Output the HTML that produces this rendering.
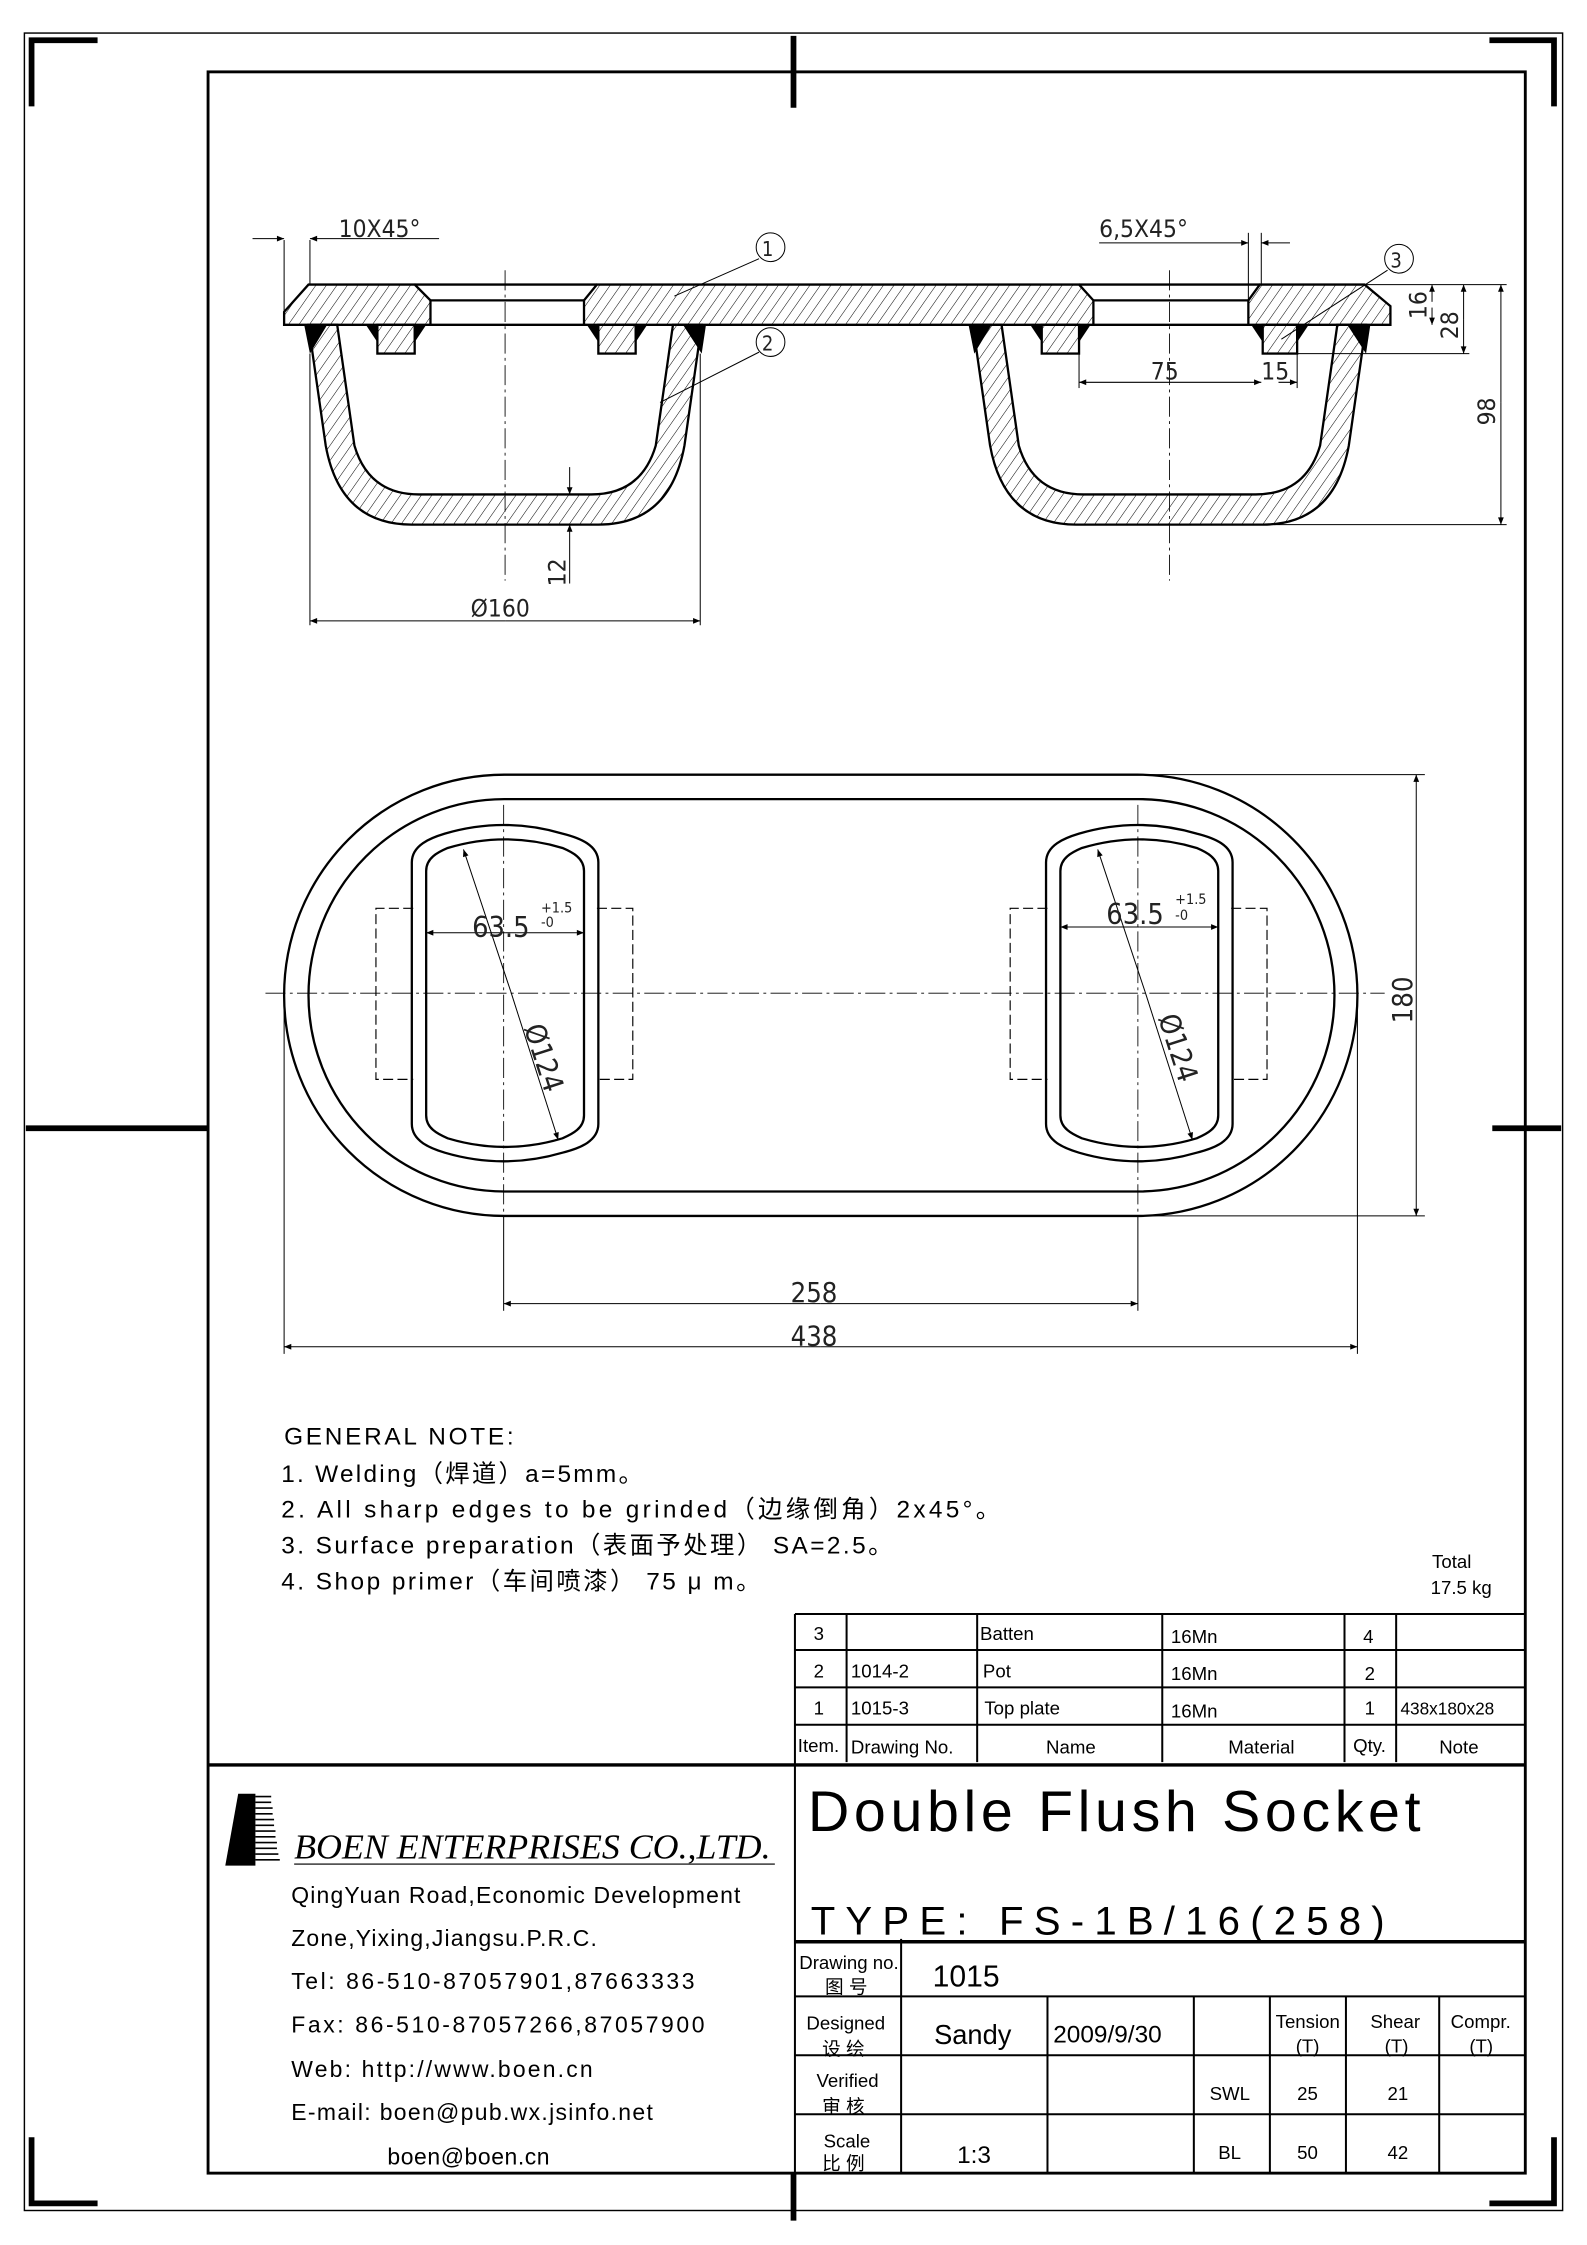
<!DOCTYPE html>
<html><head><meta charset="utf-8"><style>
html,body{margin:0;padding:0;background:#fff;}
svg{display:block;}
text{font-family:"Liberation Sans","Noto Sans CJK SC",sans-serif;fill:#000;}
.d{font-size:17px;font-family:"DejaVu Sans Condensed","Liberation Sans",sans-serif;fill:#222;font-weight:200;}
</style></head><body>
<svg width="1587" height="2245" viewBox="0 0 1106 1562" preserveAspectRatio="none" xmlns="http://www.w3.org/2000/svg">
<defs>
<pattern id="h" width="6" height="6" patternUnits="userSpaceOnUse" patternTransform="rotate(35)">
<line x1="0" y1="0" x2="0" y2="6" stroke="#000" stroke-width="0.7"/></pattern>
<marker id="a" viewBox="0 0 10 10" refX="10" refY="5" markerWidth="9" markerHeight="5" orient="auto-start-reverse" markerUnits="userSpaceOnUse"><path d="M0,1 L10,5 L0,9z" fill="#000"/></marker>
</defs>
<rect width="1106" height="1562" fill="#fff"/>
<rect x="17" y="23" width="1072" height="1515" fill="none" stroke="#000" stroke-width="1"/>
<rect x="145" y="50" width="918" height="1462" fill="none" stroke="#000" stroke-width="2"/>
<g stroke="#000" stroke-width="4" fill="none">
<path d="M68,28 H22 V74"/><path d="M1038,28 H1083 V74"/>
<path d="M22,1487 V1533 H68"/><path d="M1038,1533 H1083 V1487"/>
<path d="M553,25 V75"/><path d="M553,1512 V1545"/>
<path d="M18,785 H145"/><path d="M1040,785 H1088"/>
</g>
<g stroke="#000" stroke-width="0.6" stroke-dasharray="14,3,2,3">
<line x1="352" y1="188" x2="352" y2="404"/><line x1="815" y1="188" x2="815" y2="404"/>
</g>
<g stroke="#000" stroke-width="1.6" fill="url(#h)">
<path d="M215,226 L227,310 Q237,365 287,365 L417,365 Q467,365 477,310 L489,226 L469,226 L457,310 Q447,344 412,344 L292,344 Q257,344 247,310 L235,226 Z"/>
<path d="M678,226 L690,310 Q700,365 750,365 L880,365 Q930,365 940,310 L952,226 L932,226 L920,310 Q910,344 875,344 L755,344 Q720,344 710,310 L698,226 Z"/>
<path d="M215,198 L289,198 L300,209 L300,226 L198,226 L198,217 Z"/>
<path d="M416,198 L752,198 L762,209 L762,226 L407,226 L407,209 Z"/>
<path d="M878,198 L951,198 L969,213 L969,226 L870,226 L870,209 Z"/>
<rect x="263" y="226" width="26" height="20"/><rect x="417" y="226" width="26" height="20"/>
<rect x="726" y="226" width="26" height="20"/><rect x="880" y="226" width="24" height="20"/>
</g>
<g stroke="#000" stroke-width="1.6"><line x1="289" y1="198" x2="416" y2="198"/><line x1="752" y1="198" x2="878" y2="198"/>
<line x1="300" y1="209" x2="407" y2="209"/><line x1="762" y1="209" x2="870" y2="209"/>
<line x1="300" y1="226" x2="407" y2="226"/><line x1="762" y1="226" x2="870" y2="226"/></g>
<g fill="#000">
<path d="M255,226 L263,226 L263,238Z"/><path d="M289,226 L297,226 L289,238Z"/>
<path d="M409,226 L417,226 L417,238Z"/><path d="M443,226 L451,226 L443,238Z"/>
<path d="M718,226 L726,226 L726,238Z"/><path d="M752,226 L760,226 L752,238Z"/>
<path d="M872,226 L880,226 L880,238Z"/><path d="M904,226 L912,226 L904,238Z"/>
<path d="M212,226 L228,226 L216,246Z"/><path d="M476,226 L492,226 L489,246Z"/>
<path d="M675,226 L691,226 L679,246Z"/><path d="M939,226 L955,226 L952,246Z"/>
</g>
<g stroke="#000" stroke-width="0.7" fill="none">
<line x1="198" y1="167" x2="198" y2="217"/><line x1="216" y1="167" x2="216" y2="198"/>
<line x1="176" y1="166" x2="198" y2="166" marker-end="url(#a)"/><line x1="306" y1="166" x2="216" y2="166" marker-end="url(#a)"/>
<line x1="870" y1="162" x2="870" y2="209"/><line x1="879" y1="162" x2="879" y2="198"/>
<line x1="766" y1="169" x2="870" y2="169" marker-end="url(#a)"/><line x1="899" y1="169" x2="879" y2="169" marker-end="url(#a)"/>
<circle cx="537" cy="172" r="10"/><line x1="529" y1="180" x2="470" y2="206"/>
<circle cx="537" cy="238" r="10"/><line x1="529" y1="245" x2="460" y2="280"/>
<circle cx="975" cy="180" r="10"/><line x1="967" y1="188" x2="893" y2="236"/>
<line x1="952" y1="198" x2="1050" y2="198"/><line x1="904" y1="246" x2="1024" y2="246"/><line x1="888" y1="365" x2="1050" y2="365"/>
<line x1="998" y1="210" x2="998" y2="198" marker-end="url(#a)"/><line x1="998" y1="214" x2="998" y2="226" marker-end="url(#a)"/>
<line x1="1020" y1="222" x2="1020" y2="198" marker-end="url(#a)"/><line x1="1020" y1="222" x2="1020" y2="246" marker-end="url(#a)"/>
<line x1="1046" y1="280" x2="1046" y2="198" marker-end="url(#a)"/><line x1="1046" y1="280" x2="1046" y2="365" marker-end="url(#a)"/>
<line x1="752" y1="246" x2="752" y2="270"/><line x1="904" y1="246" x2="904" y2="270"/>
<line x1="815" y1="266" x2="752" y2="266" marker-end="url(#a)"/><line x1="815" y1="266" x2="879" y2="266" marker-end="url(#a)"/>
<line x1="891" y1="266" x2="904" y2="266" marker-end="url(#a)"/>
<line x1="397" y1="325" x2="397" y2="344" marker-end="url(#a)"/><line x1="397" y1="406" x2="397" y2="365" marker-end="url(#a)"/>
<line x1="216" y1="246" x2="216" y2="435"/><line x1="488" y1="246" x2="488" y2="435"/>
<line x1="352" y1="432" x2="216" y2="432" marker-end="url(#a)"/><line x1="352" y1="432" x2="488" y2="432" marker-end="url(#a)"/>
</g>
<text class="d" x="236" y="165">10X45°</text>
<text class="d" x="766" y="165">6,5X45°</text>
<text class="d" x="531" y="178" style="font-size:14px">1</text>
<text class="d" x="531" y="244" style="font-size:14px">2</text>
<text class="d" x="969" y="186" style="font-size:14px">3</text>
<text class="d" x="802" y="264">75</text>
<text class="d" x="879" y="264">15</text>
<text class="d" transform="translate(994,222) rotate(-90)">16</text>
<text class="d" transform="translate(1016,236) rotate(-90)">28</text>
<text class="d" transform="translate(1042,296) rotate(-90)">98</text>
<text class="d" transform="translate(394,408) rotate(-90)">12</text>
<text class="d" x="328" y="429">Ø160</text>
<g stroke="#000" stroke-width="1.6" fill="none">
<rect x="198" y="539" width="748" height="307" rx="153.5"/>
<rect x="215" y="556" width="715" height="273" rx="136.5"/>
<path d="M287,600 C287,588 300,583 310,580 Q351,568 392,580 C404,583 417,588 417,600 L417,782 C417,794 404,799 392,802 Q351,814 310,802 C300,799 287,794 287,782 Z"/>
<path d="M297,606 C297,597 305,593 312,590 Q352,578 392,590 C399,593 407,597 407,606 L407,776 C407,785 399,789 392,792 Q352,804 312,792 C305,789 297,785 297,776 Z"/>
<g transform="translate(442,0)">
<path d="M287,600 C287,588 300,583 310,580 Q351,568 392,580 C404,583 417,588 417,600 L417,782 C417,794 404,799 392,802 Q351,814 310,802 C300,799 287,794 287,782 Z"/>
<path d="M297,606 C297,597 305,593 312,590 Q352,578 392,590 C399,593 407,597 407,606 L407,776 C407,785 399,789 392,792 Q352,804 312,792 C305,789 297,785 297,776 Z"/>
</g>
</g>
<g stroke="#000" stroke-width="0.8" fill="none" stroke-dasharray="7,3">
<path d="M288,632 H262 V751 H288"/><path d="M416,632 H441 V751 H416"/>
<path d="M730,632 H704 V751 H730"/><path d="M858,632 H883 V751 H858"/>
</g>
<g stroke="#000" stroke-width="0.6" stroke-dasharray="14,3,2,3">
<line x1="185" y1="691" x2="965" y2="691"/>
<line x1="351" y1="560" x2="351" y2="846"/><line x1="793" y1="560" x2="793" y2="846"/>
</g>
<g stroke="#000" stroke-width="0.7" fill="none">
<line x1="351" y1="846" x2="351" y2="912"/><line x1="793" y1="846" x2="793" y2="912"/>
<line x1="198" y1="700" x2="198" y2="942"/><line x1="946" y1="700" x2="946" y2="942"/>
<line x1="572" y1="907" x2="351" y2="907" marker-end="url(#a)"/><line x1="572" y1="907" x2="793" y2="907" marker-end="url(#a)"/>
<line x1="572" y1="937" x2="198" y2="937" marker-end="url(#a)"/><line x1="572" y1="937" x2="946" y2="937" marker-end="url(#a)"/>
<line x1="800" y1="539" x2="993" y2="539"/><line x1="800" y1="846" x2="993" y2="846"/>
<line x1="987" y1="693" x2="987" y2="539" marker-end="url(#a)"/><line x1="987" y1="693" x2="987" y2="846" marker-end="url(#a)"/>
<line x1="352" y1="649" x2="297" y2="649" marker-end="url(#a)"/><line x1="352" y1="649" x2="407" y2="649" marker-end="url(#a)"/>
<line x1="794" y1="645" x2="739" y2="645" marker-end="url(#a)"/><line x1="794" y1="645" x2="849" y2="645" marker-end="url(#a)"/>
<line x1="356" y1="690" x2="323" y2="591" marker-end="url(#a)"/><line x1="356" y1="690" x2="389" y2="793" marker-end="url(#a)"/>
<line x1="798" y1="690" x2="765" y2="591" marker-end="url(#a)"/><line x1="798" y1="690" x2="831" y2="793" marker-end="url(#a)"/>
</g>
<text class="d" x="329" y="652" style="font-size:20px">63.5</text><text class="d" x="377" y="635" style="font-size:10px">+1.5</text><text class="d" x="377" y="645" style="font-size:10px">-0</text>
<text class="d" x="771" y="643" style="font-size:20px">63.5</text><text class="d" x="819" y="629" style="font-size:10px">+1.5</text><text class="d" x="819" y="640" style="font-size:10px">-0</text>
<text class="d" transform="translate(365,715) rotate(72)" style="font-size:20px">Ø124</text>
<text class="d" transform="translate(807,708) rotate(72)" style="font-size:20px">Ø124</text>
<text class="d" x="551" y="906" style="font-size:19px">258</text>
<text class="d" x="551" y="936" style="font-size:19px">438</text>
<text class="d" transform="translate(984,712) rotate(-90)" style="font-size:19px">180</text>
<g style="font-size:17px">
<text x="198" y="1005" textLength="160" lengthAdjust="spacing">GENERAL NOTE:</text>
<text x="196" y="1031" textLength="252" lengthAdjust="spacing">1. Welding（焊道）a=5mm。</text>
<text x="196" y="1056" textLength="501" lengthAdjust="spacing">2. All sharp edges to be grinded（边缘倒角）2x45°。</text>
<text x="196" y="1081" textLength="426" lengthAdjust="spacing">3. Surface preparation（表面予处理） SA=2.5。</text>
<text x="196" y="1106" textLength="334" lengthAdjust="spacing">4. Shop primer（车间喷漆） 75 μ m。</text>
</g>
<text x="998" y="1091" style="font-size:13px">Total</text>
<text x="997" y="1109" style="font-size:13px">17.5  kg</text>
<g stroke="#000" stroke-width="1.4" fill="none">
<path d="M554,1123 H1063 M554,1148 H1063 M554,1174 H1063 M554,1200 H1063"/>
<path d="M554,1123 V1512 M590,1123 V1226 M681,1123 V1226 M810,1123 V1226 M937,1123 V1226 M973,1123 V1226"/>
<path d="M554,1389 H1063 M554,1430 H1063 M554,1471 H1063 M628,1349 V1512 M730,1389 V1512 M832,1389 V1512 M885,1389 V1512 M938,1389 V1512 M1003,1389 V1512"/>
</g>
<g stroke="#000" stroke-width="2.4"><path d="M145,1228 H1063 M554,1351 H1063"/></g>
<g style="font-size:13px">
<text x="567" y="1141">3</text><text x="683" y="1141">Batten</text><text x="816" y="1143">16Mn</text><text x="950" y="1143">4</text>
<text x="567" y="1167">2</text><text x="593" y="1167">1014-2</text><text x="685" y="1167">Pot</text><text x="816" y="1169">16Mn</text><text x="951" y="1169">2</text>
<text x="567" y="1193">1</text><text x="593" y="1193">1015-3</text><text x="686" y="1193">Top  plate</text><text x="816" y="1195">16Mn</text><text x="951" y="1193">1</text><text x="976" y="1193" style="font-size:12px">438x180x28</text>
<text x="556" y="1219">Item.</text><text x="593" y="1220">Drawing  No.</text><text x="729" y="1220">Name</text><text x="856" y="1220">Material</text><text x="943" y="1219">Qty.</text><text x="1003" y="1220">Note</text>
</g>
<text x="563" y="1274" style="font-size:40px" textLength="427" lengthAdjust="spacing">Double Flush Socket</text>
<text x="565" y="1346" style="font-size:28px" textLength="400" lengthAdjust="spacing">TYPE: FS-1B/16(258)</text>
<g style="font-size:13px">
<text x="557" y="1370">Drawing no.</text><text x="575" y="1387">图 号</text>
<text x="562" y="1412">Designed</text><text x="573" y="1430">设 绘</text>
<text x="569" y="1452">Verified</text><text x="573" y="1470">审 核</text>
<text x="574" y="1494">Scale</text><text x="573" y="1510">比 例</text>
<text x="889" y="1411">Tension</text><text x="903" y="1428">(T)</text>
<text x="955" y="1411">Shear</text><text x="965" y="1428">(T)</text>
<text x="1011" y="1411">Compr.</text><text x="1024" y="1428">(T)</text>
<text x="843" y="1461">SWL</text><text x="904" y="1461">25</text><text x="967" y="1461">21</text>
<text x="849" y="1502">BL</text><text x="904" y="1502">50</text><text x="967" y="1502">42</text>
</g>
<text x="650" y="1382" style="font-size:21px">1015</text>
<text x="651" y="1422" style="font-size:19px">Sandy</text>
<text x="734" y="1421" style="font-size:17px">2009/9/30</text>
<text x="667" y="1505" style="font-size:17px">1:3</text>
<g fill="#000"><path d="M166,1248 H178 V1298 H157 Z"/></g>
<g stroke="#000" stroke-width="1.2"><path d="M178,1250 H189 M178,1254 H189 M178,1258 H190 M178,1262 H190 M178,1266 H191 M178,1270 H191 M178,1274 H192 M178,1278 H192 M178,1282 H193 M178,1286 H193 M178,1290 H194 M178,1294 H195"/></g>
<text x="205" y="1293" style="font-family:'Liberation Serif',serif;font-style:italic;font-size:24px" textLength="332" lengthAdjust="spacingAndGlyphs">BOEN ENTERPRISES CO.,LTD.</text>
<line x1="205" y1="1297" x2="540" y2="1297" stroke="#555" stroke-width="1.3"/>
<g style="font-size:16px">
<text x="203" y="1324" textLength="313" lengthAdjust="spacing">QingYuan Road,Economic Development</text>
<text x="203" y="1354" textLength="213" lengthAdjust="spacing">Zone,Yixing,Jiangsu.P.R.C.</text>
<text x="203" y="1384" textLength="281" lengthAdjust="spacing">Tel: 86-510-87057901,87663333</text>
<text x="203" y="1414" textLength="288" lengthAdjust="spacing">Fax: 86-510-87057266,87057900</text>
<text x="203" y="1445" textLength="210" lengthAdjust="spacing">Web: http://www.boen.cn</text>
<text x="203" y="1475" textLength="252" lengthAdjust="spacing">E-mail: boen@pub.wx.jsinfo.net</text>
<text x="270" y="1506" textLength="113" lengthAdjust="spacing">boen@boen.cn</text>
</g>
</svg>
</body></html>
